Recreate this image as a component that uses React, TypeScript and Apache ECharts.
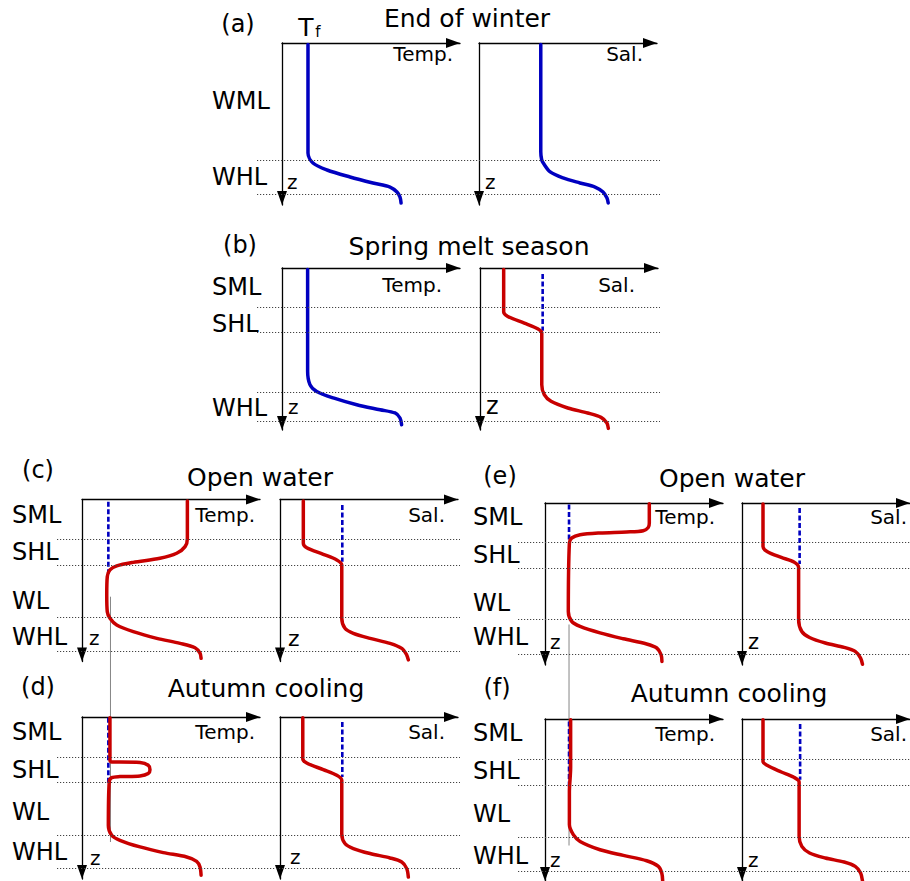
import { useEffect, useRef } from 'react';
import * as echarts from 'echarts';

type Pt = [number, number];

// ---------- DATA (value units 0..10 along each axis, depth units 0..10 downward) ----------
const panelTags = ['(a)', '(b)', '(c)', '(d)', '(e)', '(f)'];
const panelTitles = ['End of winter', 'Spring melt season', 'Open water', 'Autumn cooling', 'Open water', 'Autumn cooling'];
const axisNames = ['Temp.', 'Sal.'];
const depthName = 'z';
const freezeLabel = ['T', 'f'];

const layersA = ['WML', 'WHL'];
const layersB = ['SML', 'SHL', 'WHL'];
const layersC = ['SML', 'SHL', 'WL', 'WHL'];
const layersD = ['SML', 'SHL', 'WL', 'WHL'];
const layersE = ['SML', 'SHL', 'WL', 'WHL'];
const layersF = ['SML', 'SHL', 'WL', 'WHL'];

const boundariesA = [7.22, 9.32];
const boundariesB = [2.45, 3.99, 7.69, 9.48];
const boundariesC = [2.44, 4.04, 7.27, 9.35];
const boundariesD = [2.51, 4.05, 7.3, 9.32];
const boundariesE = [2.41, 4.01, 7.16, 9.32];
const boundariesF = [2.51, 4.1, 7.31, 9.41];

const tempA: Pt[] = [[1.46, 0.1], [1.46, 6.79], [1.74, 7.41], [2.53, 7.84], [3.82, 8.27], [5.11, 8.64], [6.07, 8.89], [6.46, 9.2], [6.63, 9.51], [6.69, 9.88]];
const salA: Pt[] = [[3.47, 0.1], [3.47, 6.71], [3.52, 7.2], [3.61, 7.41], [4.0, 7.96], [4.72, 8.33], [5.67, 8.64], [6.52, 8.89], [6.97, 9.2], [7.19, 9.57], [7.26, 9.88]];

const tempB: Pt[] = [[1.44, 0.1], [1.44, 6.38], [1.57, 7.2], [1.95, 7.62], [2.88, 8.02], [4.2, 8.44], [5.51, 8.75], [6.35, 8.95], [6.63, 9.26], [6.72, 9.67]];
const salB: Pt[] = [[1.33, 0.1], [1.33, 2.72], [1.56, 2.99], [2.49, 3.4], [3.24, 3.75], [3.47, 4.01], [3.47, 7.2], [3.61, 7.82], [3.99, 8.23], [4.93, 8.64], [6.05, 8.95], [6.8, 9.22], [7.13, 9.57], [7.21, 9.9]];
const salRefB: Pt[] = [[3.52, 0.37], [3.52, 3.87]];

const tempC: Pt[] = [[5.92, 0.1], [5.92, 2.4], [5.79, 2.91], [5.32, 3.32], [4.38, 3.63], [2.88, 3.88], [1.95, 4.1], [1.57, 4.35], [1.42, 4.77], [1.39, 5.9], [1.42, 6.93], [1.57, 7.33], [1.95, 7.75], [2.88, 8.16], [4.2, 8.57], [5.51, 8.88], [6.35, 9.15], [6.63, 9.49], [6.69, 9.8]];
const tempRefC: Pt[] = [[1.48, 0.14], [1.48, 4.77]];
const salC: Pt[] = [[1.31, 0.1], [1.31, 2.7], [1.5, 2.98], [2.43, 3.38], [3.19, 3.73], [3.47, 4.04], [3.47, 7.33], [3.65, 7.95], [4.12, 8.26], [5.06, 8.57], [6.18, 8.88], [6.84, 9.19], [7.12, 9.6], [7.21, 9.9]];
const salRefC: Pt[] = [[3.5, 0.34], [3.5, 3.84]];
// freezing-point reference, running from (c) down through (d)
const freezeCD: Pt[] = [[1.6, 6.0], [1.6, 23.55]];

const tempD: Pt[] = [[1.57, 0.05], [1.57, 2.67], [1.67, 2.78], [2.13, 2.78], [3.26, 2.81], [3.72, 2.98], [3.82, 3.25], [3.72, 3.49], [3.26, 3.64], [2.13, 3.68], [1.67, 3.74], [1.53, 4.01], [1.48, 6.69], [1.67, 7.3], [2.13, 7.61], [3.26, 8.02], [4.57, 8.37], [5.88, 8.64], [6.44, 8.91], [6.63, 9.26], [6.69, 9.77]];
const tempRefD: Pt[] = [[1.48, 0.05], [1.48, 4.11]];
const salD: Pt[] = [[1.28, 0.05], [1.28, 2.57], [1.5, 2.84], [2.43, 3.25], [3.19, 3.6], [3.47, 3.91], [3.47, 7.2], [3.65, 7.81], [4.12, 8.12], [5.06, 8.43], [6.18, 8.7], [6.84, 8.95], [7.12, 9.36], [7.21, 9.88]];
const salRefD: Pt[] = [[3.5, 0.31], [3.5, 3.7]];

const tempE: Pt[] = [[5.86, 0.05], [5.86, 1.23], [5.8, 1.51], [5.52, 1.71], [4.59, 1.79], [3.09, 1.85], [1.97, 1.96], [1.5, 2.16], [1.37, 2.47], [1.31, 6.69], [1.5, 7.31], [1.97, 7.62], [3.09, 8.02], [4.4, 8.38], [5.71, 8.7], [6.28, 8.95], [6.52, 9.36], [6.57, 9.78]];
const tempRefE: Pt[] = [[1.35, 0.1], [1.35, 2.27]];
const salE: Pt[] = [[1.25, 0.06], [1.25, 2.68], [1.49, 2.99], [2.34, 3.36], [3.09, 3.64], [3.37, 3.98], [3.37, 7.2], [3.56, 7.93], [4.02, 8.3], [4.96, 8.64], [6.08, 8.91], [6.74, 9.16], [7.06, 9.57], [7.17, 9.95]];
const salRefE: Pt[] = [[3.43, 0.31], [3.43, 3.77]];
const freezeEF: Pt[] = [[1.35, 7.5], [1.35, 23.3]];

const tempF: Pt[] = [[1.44, 0.05], [1.44, 3.0], [1.37, 4.5], [1.37, 6.52], [1.59, 7.14], [1.97, 7.56], [3.09, 8.07], [4.4, 8.42], [5.71, 8.75], [6.37, 9.1], [6.56, 9.51], [6.61, 9.98]];
const tempRefF: Pt[] = [[1.35, 0.15], [1.35, 4.16]];
const salF: Pt[] = [[1.25, 0.04], [1.25, 2.62], [1.49, 2.86], [2.34, 3.27], [3.09, 3.6], [3.4, 3.89], [3.4, 7.25], [3.56, 7.86], [4.02, 8.27], [4.96, 8.58], [6.08, 8.83], [6.74, 9.1], [7.06, 9.51], [7.17, 9.98]];
const salRefF: Pt[] = [[3.46, 0.31], [3.46, 3.75]];

// ---------- STYLE / LAYOUT ----------
const BLUE = '#0000c0';
const RED = '#c80000';
const FONT = 'DejaVu Sans';
const GRID_W = 178;
const GRID_H = 162;

type Panel = {
  layers: string[]; bounds: number[];
  temp: Pt[]; tempColor: string; tempRef?: Pt[]; freeze?: Pt[];
  sal: Pt[]; salColor: string; salRef?: Pt[];
};

const PANELS: Panel[] = [
  { layers: layersA, bounds: boundariesA, temp: tempA, tempColor: BLUE, sal: salA, salColor: BLUE },
  { layers: layersB, bounds: boundariesB, temp: tempB, tempColor: BLUE, sal: salB, salColor: RED, salRef: salRefB },
  { layers: layersC, bounds: boundariesC, temp: tempC, tempColor: RED, tempRef: tempRefC, freeze: freezeCD, sal: salC, salColor: RED, salRef: salRefC },
  { layers: layersD, bounds: boundariesD, temp: tempD, tempColor: RED, tempRef: tempRefD, sal: salD, salColor: RED, salRef: salRefD },
  { layers: layersE, bounds: boundariesE, temp: tempE, tempColor: RED, tempRef: tempRefE, freeze: freezeEF, sal: salE, salColor: RED, salRef: salRefE },
  { layers: layersF, bounds: boundariesF, temp: tempF, tempColor: RED, tempRef: tempRefF, sal: salF, salColor: RED, salRef: salRefF },
];

type Layout = {
  tempX: number; salX: number; top: number; span: [number, number];
  tag: Pt; title: Pt; tempLbl: Pt; salLbl: Pt; layerX: number; layerY: number[];
  zT: Pt; zS: Pt; zSSize: number;
};

const LAYOUT: Layout[] = [
  { tempX: 282, salX: 479, top: 43, span: [257, 660], tag: [238, 24], title: [467, 18], tempLbl: [453, 54], salLbl: [643, 54], layerX: 212, layerY: [101, 177], zT: [287, 182], zS: [485, 182], zSSize: 20 },
  { tempX: 282, salX: 480, top: 268, span: [257, 660], tag: [240, 245], title: [469, 246], tempLbl: [442, 285], salLbl: [635, 285], layerX: 212, layerY: [287, 324, 408], zT: [288, 407], zS: [486, 406], zSSize: 24 },
  { tempX: 82, salX: 280, top: 499.5, span: [57, 460], tag: [38, 470], title: [260, 477], tempLbl: [255, 515], salLbl: [445, 515], layerX: 12, layerY: [515, 552, 601, 637], zT: [89, 638], zS: [288, 638], zSSize: 22 },
  { tempX: 82, salX: 280, top: 717, span: [57, 460], tag: [38, 687], title: [266, 688], tempLbl: [255, 732], salLbl: [445, 732], layerX: 12, layerY: [732, 770, 812, 852], zT: [90, 858], zS: [290, 857], zSSize: 20 },
  { tempX: 545, salX: 742, top: 503, span: [518, 910], tag: [500, 476], title: [732, 478], tempLbl: [715, 517], salLbl: [907, 517], layerX: 473, layerY: [517, 555, 603, 637], zT: [550, 642], zS: [748, 642], zSSize: 21 },
  { tempX: 545, salX: 742, top: 719, span: [518, 910], tag: [497, 688], title: [729, 693], tempLbl: [715, 734], salLbl: [907, 734], layerX: 473, layerY: [733, 771, 814, 856], zT: [550, 860], zS: [748, 860], zSSize: 20 },
];

const AXIS_LINE = { color: '#000', width: 1.3 };

function txt(text: string, x: number, y: number, size: number, align = 'left') {
  return {
    type: 'text', x, y, silent: true,
    style: { text, fontSize: size, fontFamily: FONT, fill: '#000', textAlign: align, textVerticalAlign: 'middle' },
  };
}

function buildOption() {
  const grid: any[] = [];
  const xAxis: any[] = [];
  const yAxis: any[] = [];
  const series: any[] = [];
  const graphic: any[] = [];

  PANELS.forEach((p, k) => {
    const L = LAYOUT[k];
    const g0 = grid.length;
    grid.push({ left: L.tempX, top: L.top, width: GRID_W, height: GRID_H });
    grid.push({ left: L.salX, top: L.top, width: GRID_W, height: GRID_H });
    grid.push({ left: L.span[0], top: L.top, width: L.span[1] - L.span[0], height: GRID_H });

    for (let j = 0; j < 2; j++) {
      xAxis.push({
        gridIndex: g0 + j, type: 'value', min: 0, max: 10, position: 'top',
        axisLine: { show: true, onZero: false, symbol: ['none', 'triangle'], symbolSize: [10, 14], symbolOffset: [0, -7], lineStyle: AXIS_LINE },
        axisTick: { show: false }, axisLabel: { show: false }, splitLine: { show: false },
      });
      yAxis.push({
        gridIndex: g0 + j, type: 'value', min: 0, max: 10, inverse: true, position: 'left',
        axisLine: { show: true, onZero: false, symbol: ['triangle', 'none'], symbolSize: [10, 14], symbolOffset: [7, 0], lineStyle: AXIS_LINE },
        axisTick: { show: false }, axisLabel: { show: false }, splitLine: { show: false },
      });
    }
    xAxis.push({ gridIndex: g0 + 2, type: 'value', min: 0, max: 1, show: false });
    yAxis.push({ gridIndex: g0 + 2, type: 'value', min: 0, max: 10, inverse: true, show: false });

    // layer boundaries (dotted)
    series.push({
      type: 'line', xAxisIndex: g0 + 2, yAxisIndex: g0 + 2, data: [[0, 0]], showSymbol: false,
      lineStyle: { opacity: 0 }, silent: true, z: 1,
      markLine: {
        silent: true, symbol: 'none', label: { show: false },
        lineStyle: { type: [1.2, 1.8], color: '#444', width: 1 },
        data: p.bounds.map((v) => ({ yAxis: v })),
      },
    });

    const line = (gi: number, data: Pt[], color: string, kind: 'curve' | 'ref' | 'freeze') => ({
      type: 'line', xAxisIndex: gi, yAxisIndex: gi, data, showSymbol: false, silent: true, clip: false,
      smooth: kind === 'curve' ? 0.3 : false,
      z: kind === 'curve' ? 4 : kind === 'ref' ? 3 : 2,
      lineStyle: kind === 'curve'
        ? { color, width: 3.5, cap: 'round', join: 'round' }
        : kind === 'ref'
          ? { color, width: 2.6, type: [5, 2.5] }
          : { color: '#666', width: 0.8 },
    });

    if (p.freeze) series.push(line(g0, p.freeze, '#666', 'freeze'));
    if (p.tempRef) series.push(line(g0, p.tempRef, BLUE, 'ref'));
    if (p.salRef) series.push(line(g0 + 1, p.salRef, BLUE, 'ref'));
    series.push(line(g0, p.temp, p.tempColor, 'curve'));
    series.push(line(g0 + 1, p.sal, p.salColor, 'curve'));

    // texts
    graphic.push(txt(panelTags[k], L.tag[0], L.tag[1], 24, 'center'));
    graphic.push(txt(panelTitles[k], L.title[0], L.title[1], 25, 'center'));
    graphic.push(txt(axisNames[0], L.tempLbl[0], L.tempLbl[1], 20, 'right'));
    graphic.push(txt(axisNames[1], L.salLbl[0], L.salLbl[1], 20, 'right'));
    p.layers.forEach((name, i) => graphic.push(txt(name, L.layerX, L.layerY[i], 24, 'left')));
    graphic.push(txt(depthName, L.zT[0], L.zT[1], 20, 'left'));
    graphic.push(txt(depthName, L.zS[0], L.zS[1], L.zSSize, 'left'));
  });

  graphic.push(txt(freezeLabel[0], 306, 27, 25, 'center'));
  graphic.push(txt(freezeLabel[1], 318, 32, 15, 'center'));

  return { animation: false, backgroundColor: '#fff', grid, xAxis, yAxis, series, graphic };
}

export default function App() {
  const ref = useRef<HTMLDivElement>(null);
  useEffect(() => {
    const chart = echarts.init(ref.current!, null, { renderer: 'svg' });
    chart.setOption(buildOption() as any);
    return () => chart.dispose();
  }, []);
  return (
    <div
      ref={ref}
      style={{ position: 'absolute', left: 0, top: 0, width: 910, height: 881, background: '#fff' }}
    />
  );
}
